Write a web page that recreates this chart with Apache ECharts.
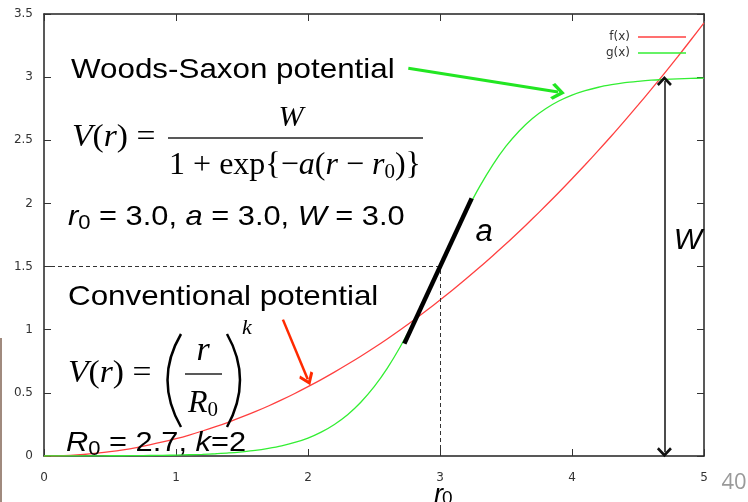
<!DOCTYPE html>
<html>
<head>
<meta charset="utf-8">
<title>Woods-Saxon vs conventional potential</title>
<script src="https://cdn.jsdelivr.net/npm/echarts@6/dist/echarts.min.js"></script>
<style>
  html, body { margin: 0; padding: 0; background: #fff; }
  #chart { width: 748px; height: 502px; }
</style>
</head>
<body>
<div id="chart"></div>
<script>
// Sample radii r
const rValues = [
  0.0, 0.1, 0.2, 0.3, 0.4, 0.5, 0.6, 0.7, 0.8, 0.9,
  1.0, 1.1, 1.2, 1.3, 1.4, 1.5, 1.6, 1.7, 1.8, 1.9,
  2.0, 2.1, 2.2, 2.3, 2.4, 2.5, 2.6, 2.7, 2.8, 2.9,
  3.0, 3.1, 3.2, 3.3, 3.4, 3.5, 3.6, 3.7, 3.8, 3.9,
  4.0, 4.1, 4.2, 4.3, 4.4, 4.5, 4.6, 4.7, 4.8, 4.9, 5.0
];
// f(x): conventional potential, R0 = 2.7, k = 2
const fValues = [
  0.000, 0.001, 0.005, 0.012, 0.022, 0.034, 0.049, 0.067, 0.088, 0.111,
  0.137, 0.166, 0.198, 0.232, 0.269, 0.309, 0.351, 0.396, 0.444, 0.495,
  0.549, 0.605, 0.664, 0.726, 0.790, 0.857, 0.927, 1.000, 1.075, 1.154,
  1.235, 1.318, 1.405, 1.494, 1.586, 1.680, 1.778, 1.878, 1.981, 2.086,
  2.195, 2.306, 2.420, 2.536, 2.656, 2.778, 2.903, 3.030, 3.160, 3.294, 3.429
];
// g(x): Woods-Saxon potential, r0 = 3.0, a = 3.0, W = 3.0
const gValues = [
  0.000, 0.001, 0.001, 0.001, 0.001, 0.002, 0.002, 0.003, 0.004, 0.005,
  0.007, 0.010, 0.013, 0.018, 0.024, 0.033, 0.044, 0.060, 0.080, 0.107,
  0.142, 0.189, 0.250, 0.327, 0.426, 0.547, 0.694, 0.867, 1.063, 1.277,
  1.500, 1.723, 1.937, 2.133, 2.306, 2.453, 2.574, 2.673, 2.750, 2.811,
  2.858, 2.893, 2.920, 2.940, 2.956, 2.967, 2.976, 2.982, 2.987, 2.990, 2.993
];
const seriesNames = ['f(x)', 'g(x)'];

// Annotation geometry in data units
const guideHorizontal = [[0, 1.5], [3, 1.5]];
const guideVertical = [[3, 0], [3, 1.5]];
const tangentSegment = [[2.73, 0.89], [3.24, 2.04]];
const depthArrow = [[4.7, 0.03], [4.7, 2.97]];
const woodsPointer = [[2.76, 3.07], [3.894, 2.882]];
const convPointer = [[1.81, 1.08], [1.998, 0.607]];

const SANS = '"Liberation Sans", Arial, sans-serif';
const SERIF = '"Liberation Serif", "Times New Roman", serif';
const TICK_FONT = '"DejaVu Sans", sans-serif';

const chevron = 'path://M0,0 L10,10 L7.5,12.5 L0,5 L-7.5,12.5 L-10,10 Z';
const legendLine = 'path://M0,0 L48,0 L48,1.4 L0,1.4 Z';

function pts(ys) { return rValues.map((r, i) => [r, ys[i]]); }

function face(family, size, italic, extra) {
  return Object.assign({
    fontFamily: family, fontSize: size,
    fontStyle: italic ? 'italic' : 'normal', fill: '#000'
  }, extra || {});
}

function label(x, y, text, family, size, rich, opts) {
  return Object.assign({
    type: 'text', x: x, y: y, scaleX: 1.1, z: 10,
    style: Object.assign(face(family, size, false), {
      text: text, verticalAlign: 'middle', align: 'left', rich: rich || {}
    })
  }, opts || {});
}

const sansRich = {
  n: face(SANS, 28, false),
  i: face(SANS, 28, true),
  s: face(SANS, 20, false, { padding: [13, 0, 0, 0] })
};
const serifRich = {
  n: face(SERIF, 32, false),
  i: face(SERIF, 32, true),
  s: face(SERIF, 21, false, { padding: [13, 0, 0, 0] })
};

function seg(pair, style, symFrom, symTo, size) {
  return [
    { coord: pair[0], symbol: symFrom || 'none', symbolSize: size || 10, lineStyle: style },
    { coord: pair[1], symbol: symTo || 'none', symbolSize: size || 10 }
  ];
}

const axisCommon = {
  type: 'value',
  axisLine: { show: true, onZero: false, lineStyle: { color: '#222', width: 1.5 } },
  axisTick: { show: true, inside: true, length: 7, lineStyle: { color: '#333', width: 1 } },
  splitLine: { show: false }
};

const chart = echarts.init(document.getElementById('chart'), null, { renderer: 'canvas' });

chart.setOption({
  animation: false,
  backgroundColor: '#fff',
  grid: { left: 44, right: 44, top: 14, bottom: 46, containLabel: false, outerBoundsMode: 'none' },
  legend: {
    data: seriesNames,
    orient: 'vertical',
    right: 57, top: 26,
    align: 'right',
    icon: legendLine,
    itemWidth: 48, itemHeight: 14, itemGap: 4,
    textStyle: { fontFamily: TICK_FONT, fontSize: 12, color: '#333', padding: [0, 3, 0, 0] }
  },
  xAxis: [
    Object.assign({}, axisCommon, {
      min: 0, max: 5, interval: 1, position: 'bottom',
      axisLabel: { margin: 16, color: '#333', fontFamily: TICK_FONT, fontSize: 12 }
    }),
    Object.assign({}, axisCommon, {
      min: 0, max: 5, interval: 1, position: 'top',
      axisLabel: { show: false }
    })
  ],
  yAxis: [
    Object.assign({}, axisCommon, {
      min: 0, max: 3.5, interval: 0.5, position: 'left',
      axisLabel: { margin: 11, color: '#333', fontFamily: TICK_FONT, fontSize: 12 }
    }),
    Object.assign({}, axisCommon, {
      min: 0, max: 3.5, interval: 0.5, position: 'right',
      axisLabel: { show: false }
    })
  ],
  series: [
    {
      name: 'f(x)', type: 'line', data: pts(fValues),
      symbol: 'none', smooth: 0.3,
      lineStyle: { color: '#ff4040', width: 1.3 }, itemStyle: { color: '#ff4040' }, z: 3
    },
    {
      name: 'g(x)', type: 'line', data: pts(gValues),
      symbol: 'none', smooth: 0.3,
      lineStyle: { color: '#33ee33', width: 1.3 }, itemStyle: { color: '#33ee33' }, z: 3
    },
    {
      name: 'annotations', type: 'line', data: [], z: 5,
      markLine: {
        silent: true, animation: false,
        label: { show: false },
        symbol: ['none', 'none'],
        data: [
          seg(guideHorizontal, { color: '#333', width: 1, type: [4, 3] }),
          seg(guideVertical, { color: '#333', width: 1, type: [4, 3] }),
          seg(tangentSegment, { color: '#000', width: 4.5, type: 'solid', cap: 'butt' }),
          seg(depthArrow, { color: '#111', width: 1.5, type: 'solid' }, chevron, chevron, [15, 10]),
          seg(woodsPointer, { color: '#22e622', width: 3, type: 'solid' }, 'none', chevron, [17, 14]),
          seg(convPointer, { color: '#ff2a00', width: 2.5, type: 'solid' }, 'none', chevron, [15, 13])
        ]
      }
    }
  ],
  graphic: [
    // slide edge strip
    { type: 'rect', shape: { x: 0, y: 338, width: 2, height: 164 }, style: { fill: '#a08a7e' }, z: 1 },

    // Woods-Saxon block
    label(71, 70, 'Woods-Saxon potential', SANS, 28, null, { scaleX: 1.12 }),
    label(72, 138, '{i|V}{n|(}{i|r}{n|) =}', SERIF, 32, serifRich, { scaleX: 1.05 }),
    { type: 'line', shape: { x1: 168, y1: 138, x2: 423, y2: 138 }, style: { stroke: '#222', lineWidth: 1.5 }, z: 10 },
    {
      type: 'text', x: 291, y: 118, z: 10,
      style: Object.assign(face(SERIF, 30, true), { text: 'W', align: 'center', verticalAlign: 'middle' })
    },
    {
      type: 'text', x: 295, y: 166, z: 10,
      style: Object.assign(face(SERIF, 32, false), {
        text: '1 + exp{−{i|a}({i|r} − {i|r}{s|0})}', align: 'center', verticalAlign: 'middle', rich: serifRich
      })
    },
    label(68, 217, '{i|r}{s|0}{n| = 3.0, }{i|a}{n| = 3.0, }{i|W}{n| = 3.0}', SANS, 28, sansRich),

    // Conventional block
    label(68, 297, 'Conventional potential', SANS, 28, null, { scaleX: 1.12 }),
    label(68, 374, '{i|V}{n|(}{i|r}{n|) =}', SERIF, 32, serifRich, { scaleX: 1.05 }),
    { type: 'bezierCurve', shape: { x1: 181, y1: 334, cpx1: 154, cpy1: 380, x2: 181, y2: 427 }, style: { stroke: '#000', lineWidth: 2.5, fill: null }, z: 10 },
    { type: 'bezierCurve', shape: { x1: 227, y1: 334, cpx1: 253, cpy1: 380, x2: 227, y2: 427 }, style: { stroke: '#000', lineWidth: 2.5, fill: null }, z: 10 },
    {
      type: 'text', x: 203, y: 351, z: 10,
      style: Object.assign(face(SERIF, 34, true), { text: 'r', align: 'center', verticalAlign: 'middle' })
    },
    { type: 'line', shape: { x1: 185, y1: 374, x2: 222, y2: 374 }, style: { stroke: '#222', lineWidth: 1.5 }, z: 10 },
    {
      type: 'text', x: 203, y: 404, z: 10,
      style: Object.assign(face(SERIF, 32, true), {
        text: 'R{s|0}', align: 'center', verticalAlign: 'middle', rich: serifRich
      })
    },
    {
      type: 'text', x: 247, y: 328, z: 10,
      style: Object.assign(face(SERIF, 22, true), { text: 'k', align: 'center', verticalAlign: 'middle' })
    },
    label(66, 443, '{i|R}{s|0}{n| = 2.7, }{i|k}{n|=2}', SANS, 28, sansRich),

    // curve labels
    {
      type: 'text', x: 484, y: 232, z: 10,
      style: Object.assign(face(SANS, 31, true), { text: 'a', align: 'center', verticalAlign: 'middle' })
    },
    {
      type: 'text', x: 688, y: 241, z: 10,
      style: Object.assign(face(SANS, 30, true), { text: 'W', align: 'center', verticalAlign: 'middle' })
    },

    // horizontal axis title r0, under the r = 3 tick
    {
      type: 'text', x: 443, y: 495, z: 10,
      style: Object.assign(face(SANS, 27, true), { text: 'r', align: 'right', verticalAlign: 'middle' })
    },
    {
      type: 'text', x: 442, y: 499, z: 10,
      style: Object.assign(face(SANS, 19, false), { text: '0', align: 'left', verticalAlign: 'middle' })
    },

    // page number
    {
      type: 'text', x: 734, y: 483, z: 10,
      style: { text: '40', fontFamily: '"Open Sans", sans-serif', fontSize: 22, fill: '#9a9a9a', align: 'center', verticalAlign: 'middle' }
    }
  ]
});
</script>
</body>
</html>
